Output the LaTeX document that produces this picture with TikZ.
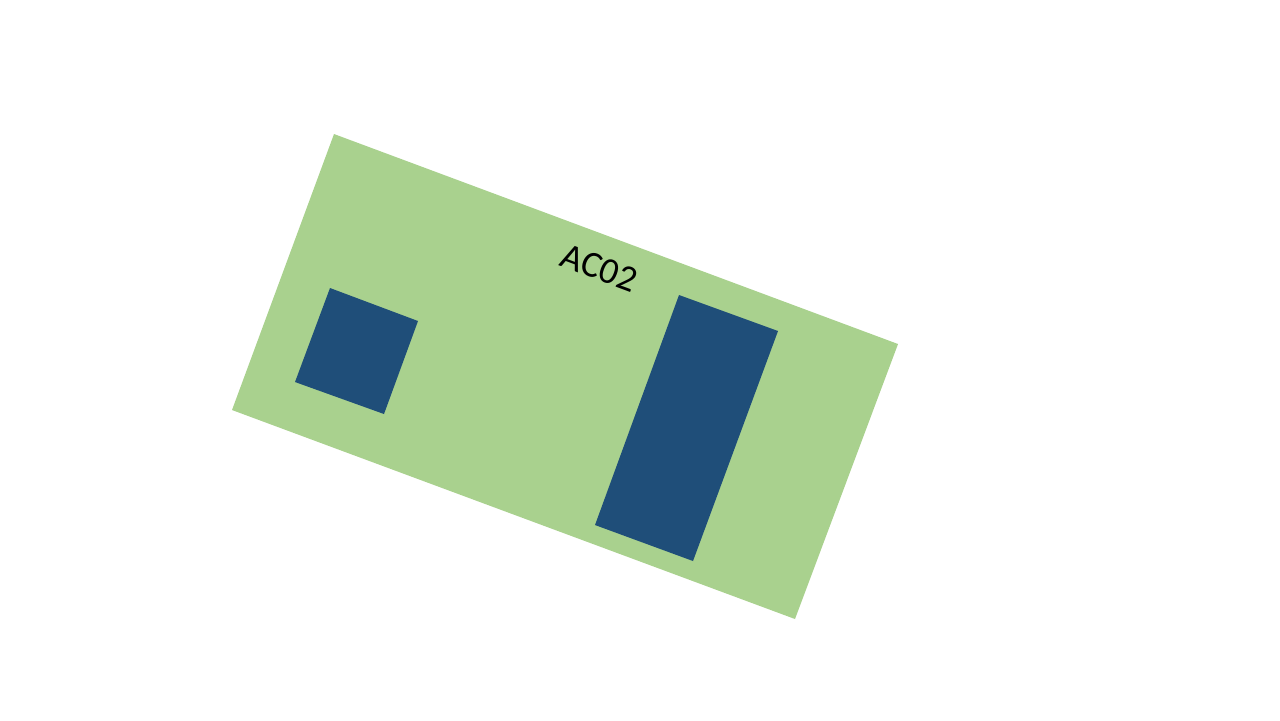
\documentclass[tikz,border=0pt]{standalone}
\usepackage{fontspec}
\setmainfont{Carlito}
\definecolor{padgreen}{HTML}{A9D18E}
\definecolor{cellblue}{HTML}{1F4E79}
\tikzset{
  board/.style={fill=padgreen, draw=none},
  cell/.style={fill=cellblue, draw=none},
  tag/.style={font=\fontsize{10.5}{12}\selectfont, text=black, inner sep=0pt}
}
\begin{document}
\begin{tikzpicture}[x=0.01cm, y=-0.01cm]
\useasboundingbox (0,0) rectangle (1280,720);
% board outline
\coordinate (b1) at (334,134);
\coordinate (b2) at (898,344);
\coordinate (b3) at (795,619);
\coordinate (b4) at (232,410);
\fill[board] (b1) -- (b2) -- (b3) -- (b4) -- cycle;
% small block
\coordinate (s1) at (330,288);
\coordinate (s2) at (418,321);
\coordinate (s3) at (384,414);
\coordinate (s4) at (295,382);
\fill[cell] (s1) -- (s2) -- (s3) -- (s4) -- cycle;
% tall block
\coordinate (t1) at (679,295);
\coordinate (t2) at (778,331);
\coordinate (t3) at (693,561);
\coordinate (t4) at (595,525);
\fill[cell] (t1) -- (t2) -- (t3) -- (t4) -- cycle;
\node[tag, rotate=-20.4] (label) at (599,268) {AC02};
\end{tikzpicture}
\end{document}
